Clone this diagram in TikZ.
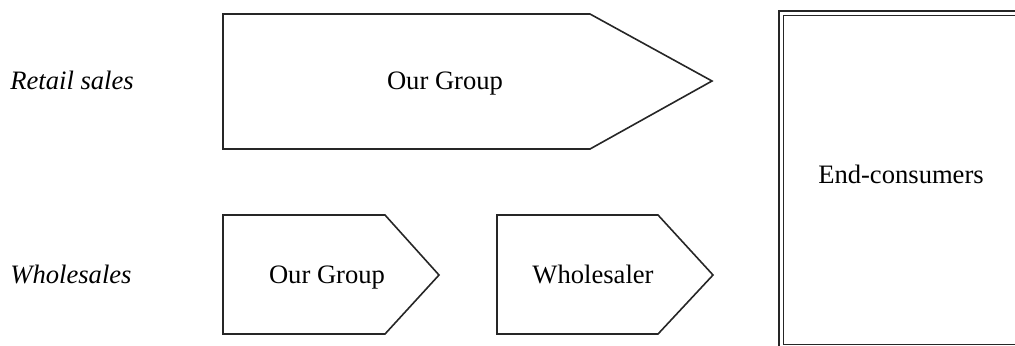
\documentclass[tikz,border=0pt]{standalone}
\usepackage{fontspec}
\setmainfont{Liberation Serif}
\usetikzlibrary{positioning}

\begin{document}
\begin{tikzpicture}
  [
    x=0.5pt, y=-0.5pt,
    chev/.style={draw=black!85, line width=0.8pt, line join=miter},
    lbl/.style={inner sep=0pt, anchor=base, font=\fontsize{13.3}{15}\selectfont},
    row/.style={lbl, anchor=base west, font=\fontsize{13.3}{15}\selectfont\itshape}
  ]
  \useasboundingbox (0,0) rectangle (1015,345);
  \clip (0,0) rectangle (1015,345);

  % row labels
  \node (retail)    [row] at (10,89)  {Retail sales};
  \node (wholesale) [row] at (10,283) {Wholesales};

  % retail chain
  \draw [chev] (223,14) -- (590,14) -- (712,81) -- (590,149) -- (223,149) -- cycle;
  \node (grp1) [lbl] at (445,89) {Our Group};

  % wholesale chain
  \draw [chev] (223,215) -- (385,215) -- (439,275) -- (385,334) -- (223,334) -- cycle;
  \node (grp2) [lbl] at (327,283) {Our Group};
  \draw [chev] (497,215) -- (658,215) -- (713,275) -- (658,334) -- (497,334) -- cycle;
  \node (whs)  [lbl] at (593,283) {Wholesaler};

  % customers
  \draw [draw=black!85, line width=1.1pt] (779,11) rectangle (1025,352);
  \draw [draw=black!85, line width=0.8pt] (783.5,15.5) rectangle (1020,344.5);
  \node (endc) [lbl] at (901,183) {End-consumers};
\end{tikzpicture}
\end{document}
